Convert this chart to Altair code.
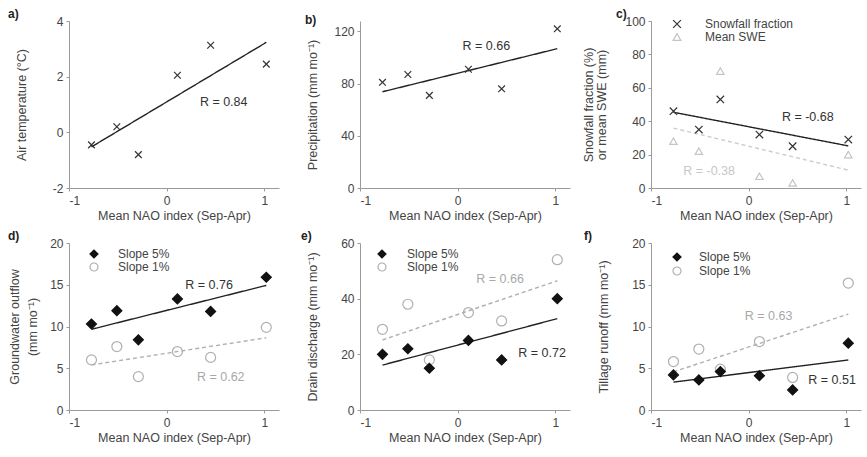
import altair as alt
import pandas as pd

# ---------------- data ----------------
nao = [-0.77, -0.51, -0.29, 0.11, 0.45, 1.02]

air_temp = [-0.45, 0.20, -0.80, 2.05, 3.13, 2.45]
precip = [81, 87, 71, 91, 76, 122]
snow_frac = [46, 35, 53, 32, 25, 29]
mean_swe = [28, 22, 70, 7, 3, 20]
gw_slope5 = [10.3, 11.9, 8.4, 13.3, 11.8, 15.9]
gw_slope1 = [6.0, 7.6, 4.0, 7.0, 6.3, 9.9]
drain_slope5 = [20, 22, 15, 25, 18, 40]
drain_slope1 = [29, 38, 18, 35, 32, 54]
till_slope5 = [4.2, 3.6, 4.6, 4.1, 2.4, 8.0]
till_slope1 = [5.8, 7.3, 4.9, 8.2, 3.9, 15.2]

x_ticks = [-1, 0, 1]

# R annotations: (series index, x, y, text)
ann_a = [(0, 0.34, 1.1, "R = 0.84")]
ann_b = [(0, 0.05, 108.5, "R = 0.66")]
ann_c = [(0, 0.34, 42.3, "R = -0.68"), (1, -0.67, 10.2, "R = -0.38")]
ann_d = [(0, 0.19, 15.0, "R = 0.76"), (1, 0.31, 4.0, "R = 0.62")]
ann_e = [(0, 0.62, 20.6, "R = 0.72"), (1, 0.19, 47.0, "R = 0.66")]
ann_f = [(0, 0.61, 3.6, "R = 0.51"), (1, -0.04, 11.2, "R = 0.63")]

FONT = "Liberation Sans"
X_DOMAIN = [-1, 1.15]
CROSS = "M-1,-1L1,1M-1,1L1,-1"

STYLE_SINGLE = dict(shapes=[CROSS], stroke=["#333333"], fill=["transparent"],
                    line=["#222222"], text=["#333333"], dash=[[1, 0]], size=45)
STYLE_SNOW = dict(shapes=[CROSS, "triangle-up"], stroke=["#333333", "#c4c4c4"],
                  fill=["transparent", "transparent"], line=["#222222", "#cccccc"],
                  text=["#333333", "#c8c8c8"], dash=[[1, 0], [4, 3]], size=55)
STYLE_SLOPE = dict(shapes=["diamond", "circle"], stroke=["#111111", "#b0b0b0"],
                   fill=["#111111", "transparent"], line=["#222222", "#b0b0b0"],
                   text=["#333333", "#a8a8a8"], dash=[[1, 0], [4, 3]], size=100)


def panel(letter, title_dx, ytitle, ydomain, yticks, names, series, style, ann,
          legend_pos=None, title_pad=11, title_lh=14):
    fit_names = [n + " (fit)" for n in names]
    rows = []
    for name, fname, vals in reversed(list(zip(names, fit_names, series))):
        for xv, yv in zip(nao, vals):
            rows.append({"nao": xv, "value": yv, "series": name, "fit": fname})
    df = pd.DataFrame(rows)
    ann_df = pd.DataFrame([{"nao": x, "value": y, "fit": fit_names[i], "label": t}
                           for i, x, y, t in ann])

    x_enc = alt.X("nao:Q", scale=alt.Scale(domain=X_DOMAIN, nice=False, zero=False),
                  axis=alt.Axis(values=x_ticks, title="Mean NAO index (Sep-Apr)",
                                labelExpr="toString(datum.value)", labelPadding=4,
                                titlePadding=3))
    y_enc = alt.Y("value:Q", scale=alt.Scale(domain=ydomain, nice=False, zero=False),
                  axis=alt.Axis(values=yticks, title=ytitle, labelExpr="toString(datum.value)",
                                minExtent=30, maxExtent=30, titlePadding=title_pad,
                                titleLineHeight=title_lh, labelPadding=3))

    if legend_pos is not None:
        lx, ly, loff, rpad, ssize = legend_pos
        leg = alt.Legend(title=None, orient="none", legendX=lx, legendY=ly,
                         labelOffset=loff, rowPadding=rpad, symbolSize=ssize,
                         labelFont=FONT, labelFontSize=12, labelColor="#444444",
                         padding=0, symbolStrokeWidth=1.2)
    else:
        leg = None

    dom = names
    shape = alt.Shape("series:N", scale=alt.Scale(domain=dom, range=style["shapes"]), legend=leg)
    stroke = alt.Stroke("series:N", scale=alt.Scale(domain=dom, range=style["stroke"]), legend=leg)
    fill = alt.Fill("series:N", scale=alt.Scale(domain=dom, range=style["fill"]), legend=leg)
    color = alt.Color("fit:N", scale=alt.Scale(domain=fit_names, range=style["line"]), legend=None)
    dash = alt.StrokeDash("fit:N", scale=alt.Scale(domain=fit_names, range=style["dash"]), legend=None)
    tcolor = alt.Color("fit:N", scale=alt.Scale(domain=fit_names, range=style["text"]), legend=None)

    lines = alt.Chart(df).transform_regression(
        "nao", "value", groupby=["fit"]
    ).mark_line(strokeWidth=1.4).encode(x=x_enc, y=y_enc, color=color, strokeDash=dash)

    points = alt.Chart(df).mark_point(size=style["size"], strokeWidth=1.2, opacity=1).encode(
        x=x_enc, y=y_enc, shape=shape, stroke=stroke, fill=fill)

    texts = alt.Chart(ann_df).mark_text(align="left", baseline="middle", font=FONT,
                                        fontSize=12.5).encode(
        x=x_enc, y=y_enc, text="label:N", color=tcolor)

    return alt.layer(lines, points, texts).properties(
        width=210, height=167,
        title=alt.TitleParams(letter, anchor="start", frame="group", dx=title_dx, offset=-6),
    ).resolve_scale(color="independent")


pa = panel("a)", -61, "Air temperature (°C)", [-2, 4], [-2, 0, 2, 4],
           ["Air temperature"], [air_temp], STYLE_SINGLE, ann_a, title_pad=11)
pb = panel("b)", -55, "Precipitation (mm mo⁻¹)", [0, 128], [0, 40, 80, 120],
           ["Precipitation"], [precip], STYLE_SINGLE, ann_b, title_pad=11)
pc = panel("c)", -35, ["Snowfall fraction (%)", "or mean SWE (mm)"], [0, 100],
           [0, 20, 40, 60, 80, 100], ["Snowfall fraction", "Mean SWE"],
           [snow_frac, mean_swe], STYLE_SNOW, ann_c,
           legend_pos=(20, -3, 22, 0, 60), title_pad=13, title_lh=13)
pd_ = panel("d)", -61, ["Groundwater outflow", "(mm mo⁻¹)"], [0, 20], [0, 5, 10, 15, 20],
            ["Slope 5%", "Slope 1%"], [gw_slope5, gw_slope1], STYLE_SLOPE, ann_d,
            legend_pos=(19, 5, 18, -3.5, 64), title_pad=0, title_lh=18)
pe = panel("e)", -59, "Drain discharge (mm mo⁻¹)", [0, 60], [0, 20, 40, 60],
           ["Slope 5%", "Slope 1%"], [drain_slope5, drain_slope1], STYLE_SLOPE, ann_e,
           legend_pos=(16, 5, 19, -1, 64), title_pad=11)
pf = panel("f)", -67, "Tillage runoff (mm mo⁻¹)", [0, 20], [0, 5, 10, 15, 20],
           ["Slope 5%", "Slope 1%"], [till_slope5, till_slope1], STYLE_SLOPE, ann_f,
           legend_pos=(20, 8, 16, 0, 64), title_pad=11)

chart = alt.concat(pa, pb, pc, pd_, pe, pf, columns=3, bounds="flush",
                   spacing={"row": 55, "column": 81}).resolve_scale(
    color="independent", shape="independent", stroke="independent",
    fill="independent", strokeDash="independent",
).resolve_legend(
    shape="independent", stroke="independent", fill="independent",
).properties(
    padding={"left": 8, "top": 8, "right": 2, "bottom": 2},
    background="white",
).configure_view(stroke=None).configure_axis(
    domainColor="#9a9a9a", tickColor="#9a9a9a", tickSize=3, grid=False,
    labelFont=FONT, titleFont=FONT, labelFontSize=12, titleFontSize=12.5,
    labelColor="#444444", titleColor="#444444", titleFontWeight="normal",
).configure_title(font=FONT, fontSize=12, fontWeight="bold", color="#222222")

chart.save("out.html", embed_options={"renderer": "svg", "actions": False})
